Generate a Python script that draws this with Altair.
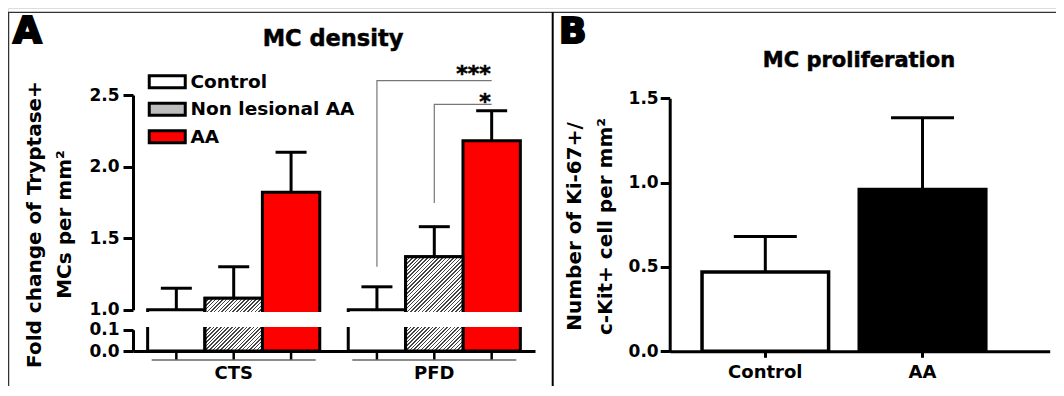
import math
import altair as alt
import pandas as pd

# ---------------- data ----------------
groups = ["CTS", "PFD"]
conditions = ["Control", "Non lesional AA", "AA"]
cts_mean = [1.00, 1.08, 1.82]
cts_sem = [0.15, 0.22, 0.28]
pfd_mean = [1.00, 1.37, 2.18]
pfd_sem = [0.16, 0.21, 0.21]
upper_ticks = [1.0, 1.5, 2.0, 2.5]
lower_ticks = [0.0, 0.1]

prolif_groups = ["Control", "AA"]
prolif_mean = [0.47, 0.96]
prolif_sem = [0.21, 0.425]
prolif_ticks = [0.0, 0.5, 1.0, 1.5]

sig_group = ["PFD", "PFD"]
sig_from = ["Control", "Non lesional AA"]
sig_to = ["AA", "AA"]
sig_start = [1.30, 1.745]
sig_top = [2.60, 2.435]
sig_text = ["***", "*"]

density_colors = ["#ffffff", "#bdbdbd", "#ff0000"]
prolif_colors = ["#ffffff", "#000000"]

# ---------------- layout (pixels inside the chart) ----------------
W, H = 1048, 378
FONT = "DejaVu Sans"
AX0, AX1 = 125.0, 527.0
A_PI, A_PO = 0.142, 0.073
UP_DOM = [1.0, 2.5]
UP_PX = [301.7, 87.0]
LO_DOM = [0.0, 0.1]
LO_PX = [343.0, 321.7]
UP_BASE = 0.965
LO_CAP = 0.125
GAP = (304.0, 319.0)
BX0, BX1 = 661.7, 1041.7
B_DOM = [0.0, 1.5]
B_PX = [343.3, 90.3]

# ---------------- tables ----------------
rows = []
for g, means, sems in [("CTS", cts_mean, cts_sem), ("PFD", pfd_mean, pfd_sem)]:
    for c, m, s in zip(conditions, means, sems):
        rows.append(dict(group=g, condition=c, mean=m, hi=m + s, base=UP_BASE,
                         low_top=min(m, LO_CAP), zero=0.0))
dens = pd.DataFrame(rows)

brk_rows = []
for i in range(len(sig_text)):
    brk_rows.append(dict(b=i, step=0, group=sig_group[i], condition=sig_from[i], y=sig_start[i]))
    brk_rows.append(dict(b=i, step=1, group=sig_group[i], condition=sig_from[i], y=sig_top[i]))
    brk_rows.append(dict(b=i, step=2, group=sig_group[i], condition=sig_to[i], y=sig_top[i]))
brk = pd.DataFrame(brk_rows)
sig = pd.DataFrame(dict(group=sig_group, condition=sig_to, y=sig_top, label=sig_text))

prol = pd.DataFrame(dict(cond=prolif_groups, mean=prolif_mean,
                         hi=[m + s for m, s in zip(prolif_mean, prolif_sem)],
                         zero=[0.0, 0.0], fillc=prolif_colors))
one = pd.DataFrame({"k": [0]})

# ---------------- scales ----------------
def xa(axis=None):
    return alt.X("group:N", scale=alt.Scale(type="band", domain=groups, range=[AX0, AX1],
                 paddingInner=A_PI, paddingOuter=A_PO), axis=axis)

def xo():
    return alt.XOffset("condition:N", scale=alt.Scale(type="band", domain=conditions,
                       paddingInner=0, paddingOuter=0))

def yu(field, axis=None):
    return alt.Y(f"{field}:Q", scale=alt.Scale(domain=UP_DOM, range=UP_PX, nice=False, zero=False), axis=axis)

def yl(field, axis=None):
    return alt.Y(f"{field}:Q", scale=alt.Scale(domain=LO_DOM, range=LO_PX, nice=False, zero=False), axis=axis)

def xb(axis=None):
    return alt.X("cond:N", scale=alt.Scale(type="band", domain=prolif_groups, range=[BX0, BX1],
                 paddingInner=0.195, paddingOuter=0.306, align=0.336), axis=axis)

def yb(field, axis=None):
    return alt.Y(f"{field}:Q", scale=alt.Scale(domain=B_DOM, range=B_PX, nice=False, zero=False), axis=axis)

common_axis = dict(domainWidth=3, domainColor="black", tickWidth=3, tickColor="black",
                   labelFont=FONT, labelFontWeight="bold", labelColor="black", grid=False,
                   labelOverlap=False)

upper_axis = alt.Axis(orient="left", offset=-AX0, values=upper_ticks, format=".1f", tickSize=10,
                      labelFontSize=17, labelPadding=4,
                      title=["Fold change of Tryptase+", "MCs per mm²"], titleFont=FONT,
                      titleFontSize=20, titleFontWeight="bold", titleColor="black",
                      titleLineHeight=30, titleAngle=270, titleAlign="center", titleBaseline="middle",
                      titleX=-99, titleY=216, **common_axis)
lower_axis = alt.Axis(orient="left", offset=-AX0, values=lower_ticks, format=".1f", tickSize=10,
                      labelFontSize=17, labelPadding=4, title=None, **common_axis)
a_x_axis = alt.Axis(orient="bottom", offset=-(H - LO_PX[0]), ticks=False, tickSize=0, labelAngle=0,
                    labelFontSize=18, labelPadding=13, title=None, domainWidth=3, domainColor="black",
                    labelFont=FONT, labelFontWeight="bold", labelColor="black", grid=False)
b_y_axis = alt.Axis(orient="left", offset=-BX0, values=prolif_ticks, format=".1f", tickSize=9.5,
                    labelFontSize=17, labelPadding=2,
                    title=["Number of Ki-67+/", "c-Kit+ cell per mm²"], titleFont=FONT,
                    titleFontSize=20, titleFontWeight="bold", titleColor="black",
                    titleLineHeight=31, titleAngle=270, titleAlign="center", titleBaseline="middle",
                    titleX=-95.2, titleY=218, **common_axis)
b_x_axis = alt.Axis(orient="bottom", offset=-(H - B_PX[0]), tickSize=6, tickWidth=3, tickColor="black",
                    labelAngle=0, labelFontSize=18, labelPadding=6, title=None, domainWidth=3,
                    domainColor="black", labelFont=FONT, labelFontWeight="bold", labelColor="black",
                    grid=False)

legend = alt.Legend(orient="none", legendX=150, legendY=64.5, title=None,
                    symbolType="M-3,-1H3V1H-3Z", symbolSize=144, symbolStrokeColor="black",
                    symbolStrokeWidth=3, symbolOpacity=1, labelFont=FONT, labelFontSize=18.5,
                    labelFontWeight="bold", labelColor="black", labelOffset=14, rowPadding=2.5,
                    padding=0, labelLimit=0)
fill_enc = alt.Fill("condition:N", scale=alt.Scale(domain=conditions, range=density_colors), legend=legend)

# ---------------- hatch pattern as a striped gradient ----------------
step_a = (AX1 - AX0) / (len(groups) - A_PI + 2 * A_PO)
sub_w = step_a * (1 - A_PI) / len(conditions)
up_ppu = (UP_PX[0] - UP_PX[1]) / (UP_DOM[1] - UP_DOM[0])
lo_ppu = (LO_PX[0] - LO_PX[1]) / (LO_DOM[1] - LO_DOM[0])


def hatch(w, h, spacing=2.6, frac=0.40, dark="#444444", light="#ffffff"):
    span = (w + h) / math.sqrt(2)
    n = max(1, int(round(span / spacing)))
    k = (w + h) / (w * w + h * h)
    stops = []
    for i in range(n):
        a = i / n
        b = (i + frac) / n
        c = (i + 1) / n
        stops += [alt.GradientStop(offset=a, color=dark), alt.GradientStop(offset=b, color=dark),
                  alt.GradientStop(offset=b, color=light), alt.GradientStop(offset=c, color=light)]
    return alt.LinearGradient(gradient="linear", stops=stops, x1=0, y1=0, x2=k * w, y2=k * h)


nl = conditions[1]
layers = []

# upper segment bars
layers.append(alt.Chart(dens).mark_bar(stroke="black", strokeWidth=3, opacity=1).encode(
    x=xa(), xOffset=xo(), y=yu("mean", upper_axis), y2="base:Q", fill=fill_enc))
for g, means in [("CTS", cts_mean), ("PFD", pfd_mean)]:
    hh = (means[1] - UP_BASE) * up_ppu
    layers.append(alt.Chart(dens).transform_filter(
        (alt.datum.condition == nl) & (alt.datum.group == g)).mark_bar(
        fill=hatch(sub_w, hh), stroke="black", strokeWidth=3).encode(
        x=xa(), xOffset=xo(), y=yu("mean"), y2="base:Q"))

# lower segment bars
layers.append(alt.Chart(dens).mark_bar(stroke="black", strokeWidth=3, opacity=1).encode(
    x=xa(a_x_axis), xOffset=xo(), y=yl("low_top", lower_axis), y2="zero:Q", fill=fill_enc))
layers.append(alt.Chart(dens).transform_filter(alt.datum.condition == nl).mark_bar(
    fill=hatch(sub_w, LO_CAP * lo_ppu), stroke="black", strokeWidth=3).encode(
    x=xa(), xOffset=xo(), y=yl("low_top"), y2="zero:Q"))

# axis break
layers.append(alt.Chart(one).mark_rect(color="white").encode(
    x=alt.value(AX0 + 3), x2=alt.value(AX1 - 3), y=alt.value(GAP[0]), y2=alt.value(GAP[1])))

# error bars
layers.append(alt.Chart(dens).mark_rule(color="black", strokeWidth=3).encode(
    x=xa(), xOffset=xo(), y=yu("mean"), y2="hi:Q"))
layers.append(alt.Chart(dens).mark_tick(color="black", thickness=3, size=31, orient="horizontal", opacity=1).encode(
    x=xa(), xOffset=xo(), y=yu("hi")))

# x ticks under each bar and group underline
layers.append(alt.Chart(dens).mark_rule(color="black", strokeWidth=2.5).encode(
    x=xa(), xOffset=xo(), y=alt.value(LO_PX[0]), y2=alt.value(LO_PX[0] + 9)))
layers.append(alt.Chart(pd.DataFrame({"group": groups})).mark_bar(color="#666666", width={"band": 0.953}).encode(
    x=xa(), y=alt.value(LO_PX[0] + 8.2), y2=alt.value(LO_PX[0] + 9.8)))

# significance brackets
layers.append(alt.Chart(brk).mark_line(color="#777777", strokeWidth=1.2).encode(
    x=xa(), xOffset=xo(), y=yu("y"), detail="b:N", order="step:O"))
for lab, ddy in [("***", 0.0), ("*", 5.0)]:
    layers.append(alt.Chart(sig).transform_filter(alt.datum.label == lab).mark_text(
        align="right", baseline="alphabetic", dx=-1, dy=ddy, font=FONT, fontSize=22,
        fontWeight="bold", color="black", stroke="black", strokeWidth=0.6).encode(
        x=xa(), xOffset=xo(), y=yu("y"), text="label:N"))

# panel B
layers.append(alt.Chart(prol).mark_bar(stroke="black", strokeWidth=3.5, opacity=1).encode(
    x=xb(b_x_axis), y=yb("mean", b_y_axis), y2="zero:Q", fill=alt.Fill("fillc:N", scale=None)))
layers.append(alt.Chart(prol).mark_rule(color="black", strokeWidth=3).encode(
    x=xb(), y=yb("mean"), y2="hi:Q"))
layers.append(alt.Chart(prol).mark_tick(color="black", thickness=3, size=63, orient="horizontal", opacity=1).encode(
    x=xb(), y=yb("hi")))

# titles and panel letters
for txt, px, py, fs, al, sw in [("MC density", 325, 38, 22.5, "center", 0.5),
                                ("MC proliferation", 851, 58.7, 21, "center", 0.5),
                                ("A", 5, 35.3, 37, "left", 2.2),
                                ("B", 551, 35.3, 36, "left", 2.2)]:
    layers.append(alt.Chart(one).mark_text(text=txt, font=FONT, fontSize=fs, fontWeight="bold",
                                           color="black", stroke="black", strokeWidth=sw,
                                           align=al, baseline="alphabetic").encode(
        x=alt.value(px), y=alt.value(py)))

# frame
layers.append(alt.Chart(one).mark_rule(color="#333333", strokeWidth=1.3).encode(
    x=alt.value(0), x2=alt.value(W), y=alt.value(4.3)))
layers.append(alt.Chart(one).mark_rule(color="#333333", strokeWidth=1.3).encode(
    x=alt.value(0.6), y=alt.value(4.3), y2=alt.value(H)))
layers.append(alt.Chart(one).mark_rule(color="black", strokeWidth=2).encode(
    x=alt.value(544.7), y=alt.value(4.3), y2=alt.value(H)))

chart = alt.layer(*layers).resolve_scale(
    x="independent", y="independent", xOffset="independent"
).properties(
    width=W, height=H, padding=0, autosize=alt.AutoSizeParams(type="none")
).configure_view(stroke=None).configure(background="white")

chart.save("out.html", embed_options={"renderer": "svg", "actions": False})
